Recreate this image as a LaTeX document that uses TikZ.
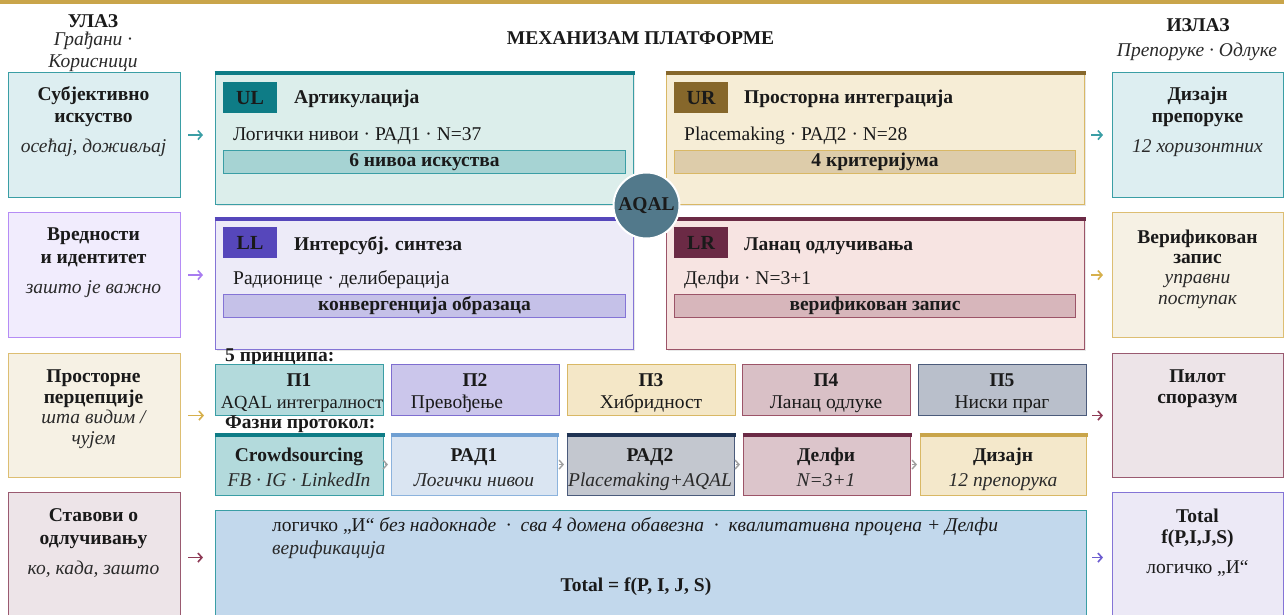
\documentclass[tikz,border=0pt]{standalone}
\usepackage{fontspec}
\setmainfont{Liberation Serif}
\usetikzlibrary{arrows.meta,shadows}
\definecolor{gold}{HTML}{C9A54A}
\definecolor{ink}{HTML}{1A1A1A}
\definecolor{ink2}{HTML}{2A2A2A}
\definecolor{tealdark}{HTML}{0E7C86}
\definecolor{tealbd}{HTML}{3A9EA5}
\definecolor{ulfill}{HTML}{DCEEEB}
\definecolor{inonefill}{HTML}{DDEEF1}
\definecolor{ulband}{HTML}{A6D3D3}
\definecolor{ponefill}{HTML}{B3DADC}
\definecolor{urdark}{HTML}{86672B}
\definecolor{urfill}{HTML}{F6EDD6}
\definecolor{urbd}{HTML}{D9B865}
\definecolor{urband}{HTML}{DDCCAA}
\definecolor{lldark}{HTML}{5647BB}
\definecolor{llfill}{HTML}{EDEBF8}
\definecolor{llbd}{HTML}{8474D6}
\definecolor{llband}{HTML}{C5C1E8}
\definecolor{intwofill}{HTML}{F1ECFD}
\definecolor{intwobd}{HTML}{B58CF5}
\definecolor{intwoarr}{HTML}{A87CF0}
\definecolor{lrdark}{HTML}{6B2A45}
\definecolor{lrfill}{HTML}{F7E4E2}
\definecolor{lrbd}{HTML}{9C5468}
\definecolor{lrband}{HTML}{D7B6BB}
\definecolor{creamfill}{HTML}{F6F1E4}
\definecolor{creambd}{HTML}{DDBE72}
\definecolor{goldarr}{HTML}{D6B04C}
\definecolor{rosefill}{HTML}{EDE4E8}
\definecolor{rosebd}{HTML}{9A5A70}
\definecolor{rosearr}{HTML}{8E3A55}
\definecolor{ptwofill}{HTML}{CBC6EB}
\definecolor{ptwobd}{HTML}{7E6ED0}
\definecolor{pthreefill}{HTML}{F4E7C7}
\definecolor{pfourfill}{HTML}{D9C0C6}
\definecolor{pfivefill}{HTML}{B9BFCB}
\definecolor{navybd}{HTML}{4B5B7B}
\definecolor{navydark}{HTML}{1F3353}
\definecolor{radfill}{HTML}{DAE5F2}
\definecolor{radbd}{HTML}{8CB3DD}
\definecolor{radtop}{HTML}{6F9FD2}
\definecolor{radtwofill}{HTML}{C3C7CF}
\definecolor{delfill}{HTML}{DCC5CB}
\definecolor{dizfill}{HTML}{F4E8CB}
\definecolor{botfill}{HTML}{C2D8EC}
\definecolor{totfill}{HTML}{ECE9F6}
\definecolor{aqalfill}{HTML}{52798B}
\definecolor{chevgray}{HTML}{A0A0A0}
\definecolor{violetarr}{HTML}{6C5CD0}
\newcommand\mainfs{\fontsize{19.5}{22}\selectfont}
\begin{document}
\begin{tikzpicture}[x=1pt,y=-1pt,
  box/.style={draw, rectangle, line width=1.1pt, inner sep=0pt, anchor=north west},
  tb/.style={anchor=base, font=\mainfs\bfseries, text=ink, inner sep=0pt},
  tr/.style={anchor=base, font=\mainfs, text=ink, inner sep=0pt},
  ti/.style={anchor=base, font=\mainfs\itshape, text=ink2, inner sep=0pt},
  badge/.style={box, minimum width=53, minimum height=30, font=\fontsize{20}{22}\selectfont\bfseries, text=ink},
  band/.style={box, minimum height=23, font=\mainfs\bfseries, text=ink},
  quad/.style={box, minimum width=418, minimum height=132, drop shadow={shadow xshift=1.2pt, shadow yshift=-1.5pt, opacity=0.18}},
  side/.style={box, minimum width=172},
  prin/.style={box, minimum height=51},
  proto/.style={box, minimum height=62},
  topbar/.style={line width=4pt},
  arr/.style={-{Straight Barb[length=4pt,width=9pt,line width=1.6pt]}, line width=1.6pt},
  chev/.style={-{Straight Barb[length=4pt,width=9pt,line width=1.4pt]}, line width=1.4pt, draw=chevgray, shorten <=1pt, shorten >=3pt},
]
\clip (0,0) rectangle (1284,615);
\useasboundingbox (0,0) rectangle (1284,615);
\fill[white] (0,0) rectangle (1284,615);
\fill[gold] (0,0) rectangle (1284,4);

% headers
\node[tb] (inhead) at (93,28) {УЛАЗ};
\node[ti] (insuba) at (93,46) {Грађани ·};
\node[ti] (insubb) at (93,68) {Корисници};
\node[tb] (mech) at (640.5,45) {МЕХАНИЗАМ ПЛАТФОРМЕ};
\node[tb] (outhead) at (1198,32) {ИЗЛАЗ};
\node[ti] (outsub) at (1197,57) {Препоруке · Одлуке};

% left column
\node[side, fill=inonefill, draw=tealbd, minimum height=125] (ina) at (7.5,72) {};
\node[tb] (inat) at (93.5,101) {Субјективно};
\node[tb] (inau) at (93.5,123) {искуство};
\node[ti] (inav) at (93.5,153) {осећај, доживљај};

\node[side, fill=intwofill, draw=intwobd, minimum height=125] (inb) at (7.5,212) {};
\node[tb] (inbt) at (93.5,240) {Вредности};
\node[tb] (inbu) at (93.5,263) {и идентитет};
\node[ti] (inbv) at (93.5,293) {зашто је важно};

\node[side, fill=creamfill, draw=creambd, minimum height=124] (inc) at (7.5,353) {};
\node[tb] (inct) at (93.5,382) {Просторне};
\node[tb] (incu) at (93.5,403) {перцепције};
\node[ti] (incv) at (93.5,423) {шта видим /};
\node[ti] (incw) at (93.5,444) {чујем};

\node[side, fill=rosefill, draw=rosebd, minimum height=130] (ind) at (7.5,492) {};
\node[tb] (indt) at (93.5,521) {Ставови о};
\node[tb] (indu) at (93.5,544) {одлучивању};
\node[ti] (indv) at (93.5,574) {ко, када, зашто};

% right column
\node[side, fill=inonefill, draw=tealbd, minimum height=125, minimum width=171] (outa) at (1112,72) {};
\node[tb] (outat) at (1197.5,101) {Дизајн};
\node[tb] (outau) at (1197.5,122) {препоруке};
\node[ti] (outav) at (1197.5,153) {12 хоризонтних};

\node[side, fill=creamfill, draw=creambd, minimum height=125, minimum width=171] (outb) at (1112,212) {};
\node[tb] (outbt) at (1197.5,243) {Верификован};
\node[tb] (outbu) at (1197.5,263) {запис};
\node[ti] (outbv) at (1197.5,283) {управни};
\node[ti] (outbw) at (1197.5,304) {поступак};

\node[side, fill=rosefill, draw=rosebd, minimum height=124, minimum width=171] (outc) at (1112,353) {};
\node[tb] (outct) at (1197.5,382) {Пилот};
\node[tb] (outcu) at (1197.5,403) {споразум};

\node[side, fill=totfill, draw=llbd, minimum height=130, minimum width=171] (outd) at (1112,492) {};
\node[tb] (outdt) at (1197.5,522) {Total};
\node[tb] (outdu) at (1197.5,543) {f(P,I,J,S)};
\node[tr] (outdv) at (1197.5,573) {логичко „И“};

% quadrants
\node[quad, fill=ulfill, draw=tealbd] (ul) at (215,72) {};
\draw[topbar, tealdark] ([shift={(-0.5pt,-1.5pt)}]ul.north west) -- ([shift={(0.5pt,-1.5pt)}]ul.north east);
\node[badge, fill=tealdark, draw=tealdark] (ulb) at (223,82) {UL};
\node[tb, anchor=base west] (ult) at (294,104) {Артикулација};
\node[tr, anchor=base west] (uls) at (233,140) {Логички нивои · РАД1 · N=37};
\node[band, fill=ulband, draw=tealbd, minimum width=402] (ulband) at (223,150) {6 нивоа искуства};

\node[quad, fill=urfill, draw=urbd] (ur) at (666,72) {};
\draw[topbar, urdark] ([shift={(-0.5pt,-1.5pt)}]ur.north west) -- ([shift={(0.5pt,-1.5pt)}]ur.north east);
\node[badge, fill=urdark, draw=urdark] (urb) at (674,82) {UR};
\node[tb, anchor=base west] (urt) at (744,104) {Просторна интеграција};
\node[tr, anchor=base west] (urs) at (684,140) {Placemaking · РАД2 · N=28};
\node[band, fill=urband, draw=urbd, minimum width=401] (urband) at (674,150) {4 критеријума};

\node[quad, fill=llfill, draw=llbd] (ll) at (215,217) {};
\draw[topbar, lldark] ([shift={(-0.5pt,-1.5pt)}]ll.north west) -- ([shift={(0.5pt,-1.5pt)}]ll.north east);
\node[badge, fill=lldark, draw=lldark] (llb) at (223,227) {LL};
\node[tb, anchor=base west] (llt) at (294,250) {Интерсубј. синтеза};
\node[tr, anchor=base west] (lls) at (233,284) {Радионице · делиберација};
\node[band, fill=llband, draw=llbd, minimum width=402] (llband) at (223,294) {конвергенција образаца};

\node[quad, fill=lrfill, draw=lrbd] (lr) at (666,217) {};
\draw[topbar, lrdark] ([shift={(-0.5pt,-1.5pt)}]lr.north west) -- ([shift={(0.5pt,-1.5pt)}]lr.north east);
\node[badge, fill=lrdark, draw=lrdark] (lrb) at (674,227) {LR};
\node[tb, anchor=base west] (lrt) at (744,250) {Ланац одлучивања};
\node[tr, anchor=base west] (lrs) at (684,284) {Делфи · N=3+1};
\node[band, fill=lrband, draw=lrbd, minimum width=401] (lrband) at (674,294) {верификован запис};

\node[circle, fill=aqalfill, draw=white, line width=2pt, minimum size=66, inner sep=0pt,
      font=\fontsize{19.5}{22}\selectfont\bfseries, text=ink] (aqal) at (646.5,205.5) {AQAL};

% principles
\node[tb, anchor=base west] (plabel) at (225,361) {5 принципа:};
\node[prin, fill=ponefill, draw=tealbd, minimum width=168] (pa) at (215,364) {};
\node[tb] (pat) at (299,386) {П1};
\node[tr, font=\fontsize{18.5}{22}\selectfont] (pas) at (302,408) {AQAL интегралност};
\node[prin, fill=ptwofill, draw=ptwobd, minimum width=168] (pb) at (391,364) {};
\node[tb] (pbt) at (475,386) {П2};
\node[tr] (pbs) at (457,408) {Превођење};
\node[prin, fill=pthreefill, draw=urbd, minimum width=168] (pc) at (567,364) {};
\node[tb] (pct) at (651,386) {П3};
\node[tr] (pcs) at (651,408) {Хибридност};
\node[prin, fill=pfourfill, draw=lrbd, minimum width=168] (pd) at (742,364) {};
\node[tb] (pdt) at (826,386) {П4};
\node[tr] (pds) at (826,408) {Ланац одлуке};
\node[prin, fill=pfivefill, draw=navybd, minimum width=168] (pe) at (918,364) {};
\node[tb] (pet) at (1002,386) {П5};
\node[tr] (pes) at (1002,408) {Ниски праг};

% protocol
\node[tb, anchor=base west] (flabel) at (225,428) {Фазни протокол:};
\node[proto, fill=ponefill, draw=tealbd, minimum width=168] (ca) at (215,433) {};
\draw[topbar, tealdark] ([shift={(-0.5pt,-1.5pt)}]ca.north west) -- ([shift={(0.5pt,-1.5pt)}]ca.north east);
\node[tb] (cat) at (299,461) {Crowdsourcing};
\node[ti] (cas) at (299,486) {FB · IG · LinkedIn};
\node[proto, fill=radfill, draw=radbd, minimum width=166] (cb) at (391,433) {};
\draw[topbar, radtop] ([shift={(-0.5pt,-1.5pt)}]cb.north west) -- ([shift={(0.5pt,-1.5pt)}]cb.north east);
\node[tb] (cbt) at (474,461) {РАД1};
\node[ti] (cbs) at (474,486) {Логички нивои};
\node[proto, fill=radtwofill, draw=navybd, minimum width=167] (cc) at (567,433) {};
\draw[topbar, navydark] ([shift={(-0.5pt,-1.5pt)}]cc.north west) -- ([shift={(0.5pt,-1.5pt)}]cc.north east);
\node[tb] (cct) at (650,461) {РАД2};
\node[ti] (ccs) at (650,486) {Placemaking+AQAL};
\node[proto, fill=delfill, draw=lrbd, minimum width=167] (cd) at (743,433) {};
\draw[topbar, lrdark] ([shift={(-0.5pt,-1.5pt)}]cd.north west) -- ([shift={(0.5pt,-1.5pt)}]cd.north east);
\node[tb] (cdt) at (826,461) {Делфи};
\node[ti] (cds) at (826,486) {N=3+1};
\node[proto, fill=dizfill, draw=urbd, minimum width=166] (ce) at (920,433) {};
\draw[topbar, gold] ([shift={(-0.5pt,-1.5pt)}]ce.north west) -- ([shift={(0.5pt,-1.5pt)}]ce.north east);
\node[tb] (cet) at (1003,461) {Дизајн};
\node[ti] (ces) at (1003,486) {12 препорука};

\draw[chev] (ca.east) -- (cb.west);
\draw[chev] (cb.east) -- (cc.west);
\draw[chev] (cc.east) -- (cd.west);
\draw[chev] (cd.east) -- (ce.west);

% bottom box
\node[box, fill=botfill, draw=tealbd, minimum width=871, minimum height=115] (bot) at (215,510) {};
\node[tr, anchor=base west] (bla) at (272,531) {логичко „И“ \textit{без надокнаде \ · \ сва 4 домена обавезна \ · \ квалитативна процена + Делфи}};
\node[ti, anchor=base west] (blb) at (272,554) {верификација};
\node[tb] (blc) at (636,591) {Total = f(P, I, J, S)};

% input arrows
\draw[arr, draw=tealbd, shorten <=7.5pt, shorten >=12pt] (ina.east) -- (ina.east -| ul.west);
\draw[arr, draw=intwoarr, shorten <=7.5pt, shorten >=12pt] (inb.east) -- (inb.east -| ll.west);
\draw[arr, draw=goldarr, shorten <=7.5pt, shorten >=11pt] (inc.east) -- (inc.east -| pa.west);
\draw[arr, draw=rosearr, shorten <=7.5pt, shorten >=12pt] (ind.east) -- (ind.east -| bot.west);
% output arrows
\draw[arr, draw=tealbd, shorten <=6pt, shorten >=9pt] (outa.west -| ur.east) -- (outa.west);
\draw[arr, draw=goldarr, shorten <=6pt, shorten >=9pt] (outb.west -| lr.east) -- (outb.west);
\draw[arr, draw=rosearr, shorten <=5pt, shorten >=9pt] (outc.west -| pe.east) -- (outc.west);
\draw[arr, draw=violetarr, shorten <=5pt, shorten >=9pt] (outd.west -| bot.east) -- (outd.west);
\end{tikzpicture}
\end{document}
